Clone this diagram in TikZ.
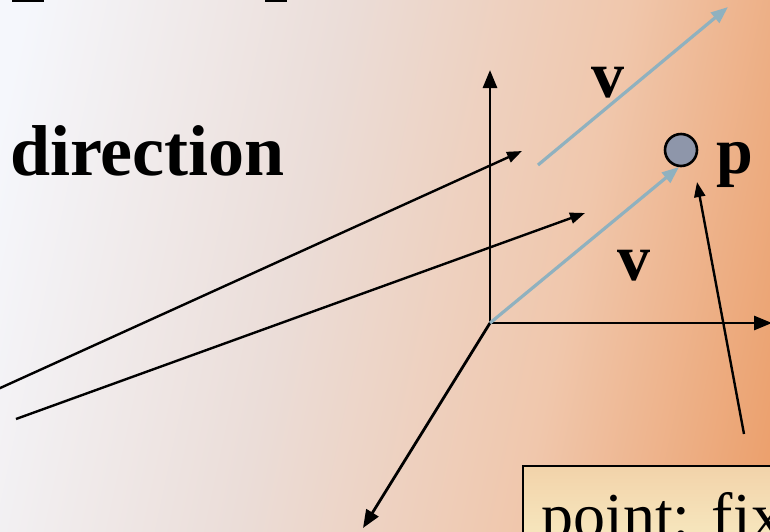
\documentclass[tikz,border=0pt]{standalone}
\usepackage{fontspec}
\setmainfont{Liberation Serif}
\usetikzlibrary{arrows.meta}
\definecolor{bgA}{HTML}{F5F7FC}
\definecolor{bgB}{HTML}{EBDDD8}
\definecolor{bgC}{HTML}{F0C7AC}
\definecolor{bgD}{HTML}{EB9C66}
\definecolor{vecc}{HTML}{8FB1BF}
\definecolor{ptfill}{HTML}{8E96AA}
\definecolor{boxA}{HTML}{F2D3AA}
\definecolor{boxB}{HTML}{F8EDC4}
\pgfdeclarehorizontalshading{slidebg}{100bp}{color(0bp)=(bgA); color(28bp)=(bgA); color(45bp)=(bgB); color(60bp)=(bgC); color(74bp)=(bgD); color(100bp)=(bgD)}
\tikzset{
  axisline/.style={line width=2.8pt, -{Triangle[length=18pt,width=14pt]}},
  pointer/.style={line width=2.4pt, -{Triangle[length=15pt,width=11pt]}},
  vecline/.style={vecc, line width=3.2pt, -{Triangle[length=17pt,width=13pt]}},
  bigbold/.style={inner sep=0pt, anchor=base west, font=\fontsize{72}{80}\selectfont\bfseries},
  lbl/.style={inner sep=0pt, anchor=base west, font=\fontsize{66}{72}\selectfont\bfseries},
  boxtext/.style={inner sep=0pt, anchor=base west, font=\fontsize{64}{72}\selectfont}
}
\begin{document}
\begin{tikzpicture}[x=1pt,y=-1pt]
\useasboundingbox (0,0) rectangle (770,531);
\clip (0,0) rectangle (770,531);
\shade[shading=slidebg, shading angle=-12] (-100,-100) rectangle (870,631);
% fragments of text above
\fill (12,0) rectangle (44,2);
\fill (265,0) rectangle (287,2);
% text
\node[bigbold] (dir) at (10,175) {direction};
\node[lbl] (v1) at (591,97) {v};
\node[lbl] (v2) at (617,280) {v};
\node[lbl] (p) at (716,173) {p};
% coordinates
\coordinate (O) at (490,323);
\coordinate (ytip) at (490,70);
\coordinate (xtip) at (772,323);
\coordinate (ztip) at (363,528);
\coordinate (a0) at (-2,389);
\coordinate (a1) at (522,151);
\coordinate (b0) at (16,419);
\coordinate (b1) at (585,213);
\coordinate (c0) at (744,434);
\coordinate (c1) at (697,182);
\coordinate (w0) at (538,165);
\coordinate (w1) at (728,7);
% box
\draw[line width=2.4pt, top color=boxA, bottom color=boxB] (523,466) rectangle (790,560);
\node[boxtext] (bt) at (541,537) {point: fix};
% axes
\draw[axisline] (O) -- (ytip);
\draw[axisline] (O) -- (xtip);
\draw[axisline] (O) -- (ztip);
% point
\node[circle, draw, line width=2.6pt, fill=ptfill, minimum size=32pt, inner sep=0pt] (pt) at (681,150) {};
% vectors
\draw[vecline] (O) -- (679,167);
\draw[vecline] (w0) -- (w1);
% pointers
\draw[pointer] (a0) -- (a1);
\draw[pointer] (b0) -- (b1);
\draw[pointer] (c0) -- (c1);
\end{tikzpicture}
\end{document}
